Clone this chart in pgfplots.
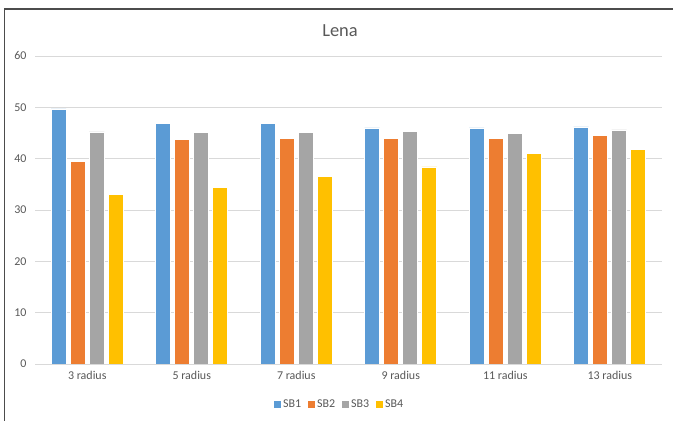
\documentclass[border=0pt]{standalone}
\usepackage{pgfplots}
\pgfplotsset{compat=1.18}
\usepackage{fontspec}
\setmainfont{Carlito}
\definecolor{sbone}{HTML}{5B9BD5}
\definecolor{sbtwo}{HTML}{ED7D31}
\definecolor{sbthree}{HTML}{A5A5A5}
\definecolor{sbfour}{HTML}{FFC000}
\definecolor{txt}{HTML}{595959}
\definecolor{grd}{HTML}{D9D9D9}

\begin{document}
\begin{tikzpicture}
\useasboundingbox (0,0) rectangle (673bp,421bp);
\fill[white] (0,0) rectangle (673bp,421bp);
\draw[line width=1.5bp, color=black!70] (4.5bp,0) -- (4.5bp,412bp) -- (673bp,412bp);
\node[font=\fontsize{18.5}{20}\selectfont, text=txt] at (340bp,390bp) {Lena};
\begin{axis}[
    at={(35bp,57bp)}, anchor=south west,
    scale only axis,
    width=627bp, height=308bp,
    ybar=4bp, bar width=15bp,
    xmin=-0.5, xmax=5.5,
    ymin=0, ymax=60,
    xtick=data,
    xticklabels={3 radius,5 radius,7 radius,9 radius,11 radius,13 radius},
    ytick={0,10,...,60},
    axis line style={draw=none},
    major tick length=0pt,
    ymajorgrids,
    grid style={grd, line width=0.9bp},
    ticklabel style={font=\fontsize{12}{14}\selectfont, text=txt},
    /pgf/number format/assume math mode=true,
    yticklabel style={xshift=-5bp},
    xticklabel style={yshift=-4bp},
    every axis plot/.append style={draw=white, line width=0.6bp},
    legend columns=4,
    legend style={at={(0.486,-0.13)}, anchor=center, draw=none,
        font=\fontsize{12}{14}\selectfont, text=txt,
        /tikz/every even column/.append style={column sep=5bp}},
    legend image code/.code={\fill[#1,draw=none] (0bp,-3.5bp) rectangle (7bp,3.5bp);},
]
\addplot[fill=sbone] coordinates {(0,49.7) (1,46.9) (2,46.8) (3,46.0) (4,46.0) (5,46.2)};
\addplot[fill=sbtwo] coordinates {(0,39.5) (1,43.8) (2,44.0) (3,44.0) (4,44.0) (5,44.5)};
\addplot[fill=sbthree] coordinates {(0,45.2) (1,45.1) (2,45.1) (3,45.3) (4,44.9) (5,45.6)};
\addplot[fill=sbfour] coordinates {(0,33.1) (1,34.4) (2,36.6) (3,38.4) (4,41.0) (5,41.8)};
\legend{SB1,SB2,SB3,SB4}
\end{axis}
\end{tikzpicture}
\end{document}
